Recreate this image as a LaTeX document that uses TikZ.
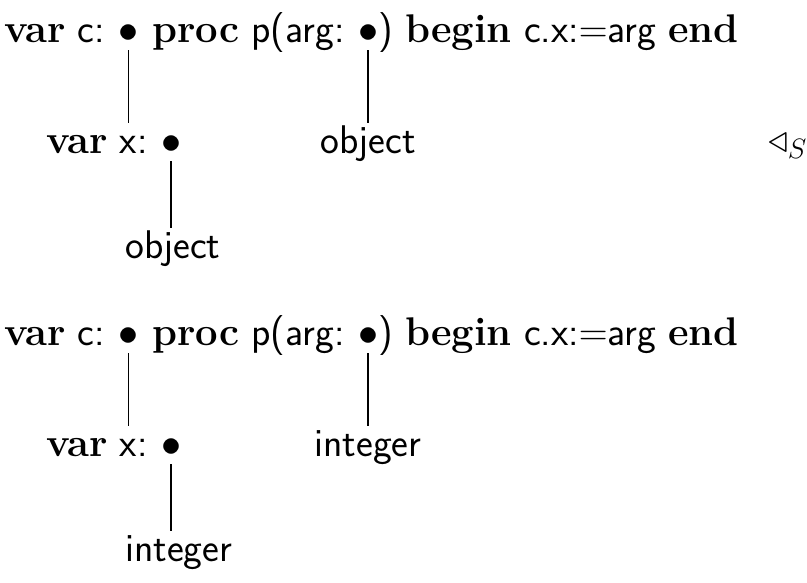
\RequirePackage{fix-cm}
\documentclass[tikz,border=0pt]{standalone}
\usepackage{amsmath}
\usepackage{amssymb}
\usetikzlibrary{positioning}
\newcommand{\kw}[1]{\textbf{#1}}
\newcommand{\id}[1]{\textsf{#1}}
\tikzset{
  code/.style={inner sep=0pt, anchor=base west, text height=.75em, text depth=.2em},
  tie/.style={line width=1.4pt}
}
\begin{document}
\fontsize{40}{48}\selectfont
\begin{tikzpicture}[x=1pt, y=-1pt, node distance=.33em]
  \useasboundingbox (0,0) rectangle (807,582);
  \foreach \off/\ty/\n in {0/object/a, 303/integer/b} {
    % the declaration
    \node[code] (vc\n) at (4,42+\off) {\kw{var} \id{c:}};
    \node[code, base right=of vc\n] (bc\n) {$\bullet$};
    \node[code, base right=of bc\n] (pp\n) {\kw{proc} \id{p(arg:}};
    \node[code, base right=of pp\n] (ba\n) {$\bullet$};
    \node[code, base right=0pt of ba\n] (en\n) {\id{)} \kw{begin} \id{c.x:$=$arg} \kw{end}};
    % its parts
    \node[code] (vx\n) at (46,153+\off) {\kw{var} \id{x:}};
    \node[code, base right=of vx\n] (bx\n) {$\bullet$};
    \node[code, anchor=base] (ta\n) at (ba\n.base |- vx\n.base) {\id{\ty}};
    \node[code] (tx\n) at ([xshift=-46pt,yshift=-105pt]bx\n.base) {\id{\ty}};
    \draw[tie] (bc\n.south) -- (bc\n.south |- vx\n.north);
    \draw[tie] (ba\n.south) -- (ba\n.south |- ta\n.north);
    \draw[tie] (bx\n.south) -- (bx\n.south |- tx\n.north);
  }
  \node[code] (rel) at (768,152) {$\triangleleft_S$};
\end{tikzpicture}
\end{document}
